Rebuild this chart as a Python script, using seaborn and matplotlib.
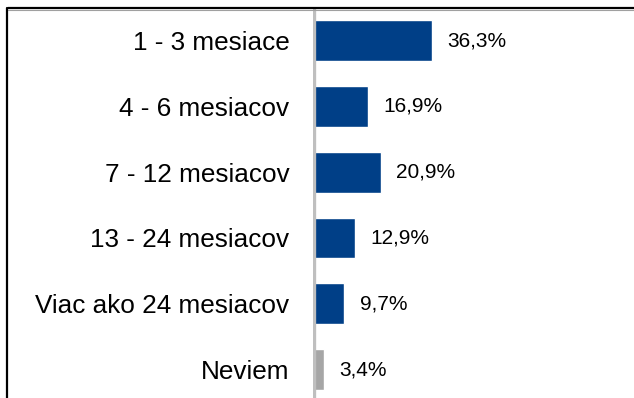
"""
plot.py
───────
Horizontal bar chart: how long respondents have been looking for work.
"""

import matplotlib
matplotlib.use("Agg")
import matplotlib.pyplot as plt
import pandas as pd
import seaborn as sns
from matplotlib.lines import Line2D

# ── Data ─────────────────────────────────────────────────────────────────────

categories = ["1 - 3 mesiace", "4 - 6 mesiacov", "7 - 12 mesiacov",
              "13 - 24 mesiacov", "Viac ako 24 mesiacov", "Neviem"]
values = [36.3, 16.9, 20.9, 12.9, 9.7, 3.4]
value_labels = ["36,3%", "16,9%", "20,9%", "12,9%", "9,7%", "3,4%"]

BLUE = "#003F87"
GREY = "#A6A6A6"
AXIS_GREY = "#BFBFBF"

# ── Plot ─────────────────────────────────────────────────────────────────────

sns.set_style("white")
plt.rcParams["font.family"] = ["Liberation Sans", "DejaVu Sans"]

df = pd.DataFrame({"category": categories, "value": values})
palette = [BLUE] * (len(categories) - 1) + [GREY]

W, H = 634, 398
fig = plt.figure(figsize=(W / 100, H / 100), dpi=100)
ax = fig.add_axes([312.5 / W, 0.0, 1 - 312.5 / W, 1 - 7.6 / H])

sns.barplot(data=df, x="value", y="category", hue="category",
            palette=palette, legend=False, width=0.62, saturation=1,
            ax=ax, zorder=2)

ax.set_xlim(0, 98)
ax.set_ylim(5.433, -0.5)
ax.set_xlabel("")
ax.set_ylabel("")
ax.set_xticks([])
for s in ax.spines.values():
    s.set_visible(False)
ax.tick_params(axis="y", length=0, pad=16.5, labelsize=18.8, labelcolor="black")

# grey axis line drawn over the bar roots
ax.axvline(0.6, color=AXIS_GREY, lw=2.4, zorder=3)

for i, (v, lab) in enumerate(zip(values, value_labels)):
    ax.annotate(lab, (v, i), xytext=(11, 0), textcoords="offset points",
                va="center", ha="left", fontsize=15, color="black")

# frame lines (top and left only)
fig.add_artist(Line2D([7.5 / W, 1], [1 - 9.5 / H, 1 - 9.5 / H],
                      transform=fig.transFigure, color="#A0A0A0", lw=0.8))
fig.add_artist(Line2D([7.5 / W, 1], [1 - 8 / H, 1 - 8 / H],
                      transform=fig.transFigure, color="black", lw=1.6))
fig.add_artist(Line2D([7.2 / W, 7.2 / W], [0, 1 - 8 / H],
                      transform=fig.transFigure, color="black", lw=1.6))

fig.savefig("out.png", dpi=100, facecolor="white")
plt.close()
